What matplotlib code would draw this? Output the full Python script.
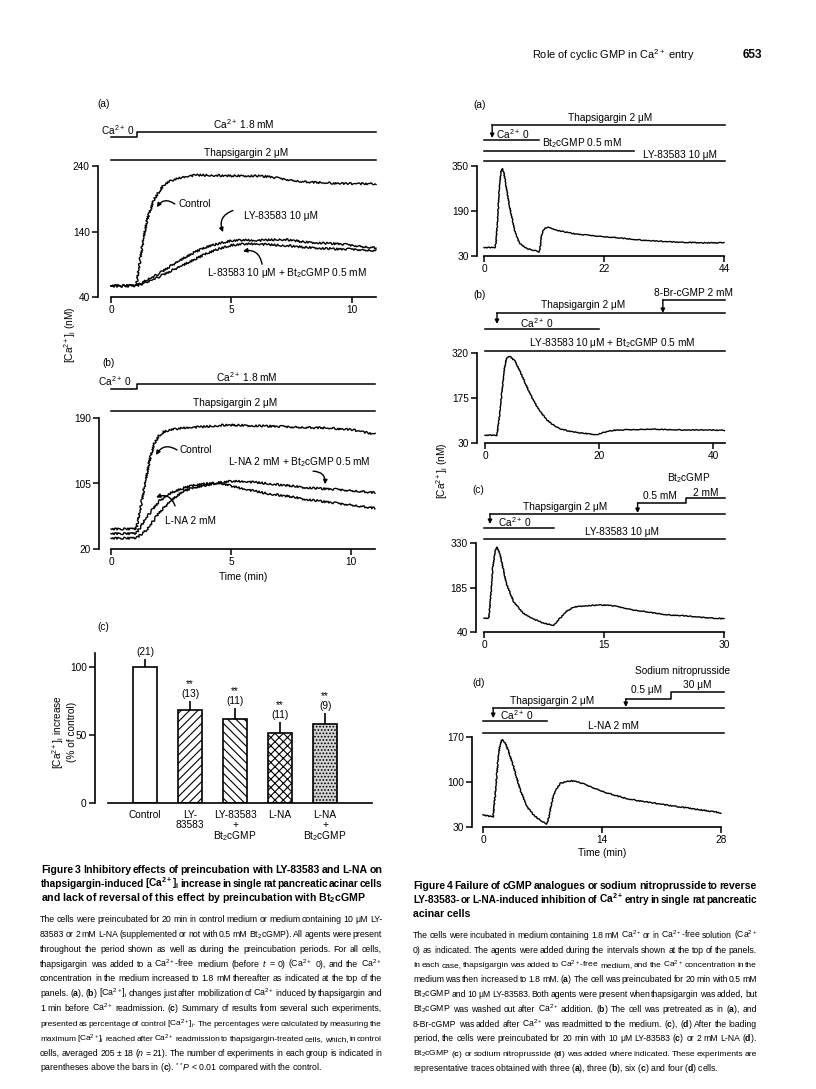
import matplotlib
matplotlib.use('Agg')
import matplotlib.pyplot as plt
from matplotlib import font_manager
from matplotlib.transforms import blended_transform_factory

W, H = 816, 1089

avail = {f.name for f in font_manager.fontManager.ttflist}
FIG_FONT = 'Liberation Sans' if 'Liberation Sans' in avail else 'DejaVu Sans'
CAP_FONT = 'Liberation Sans Narrow' if 'Liberation Sans Narrow' in avail else FIG_FONT

plt.rcParams['font.family'] = [FIG_FONT, 'DejaVu Sans']
plt.rcParams['mathtext.fontset'] = 'custom'
plt.rcParams['mathtext.rm'] = FIG_FONT
plt.rcParams['mathtext.it'] = FIG_FONT + ':italic'
plt.rcParams['mathtext.bf'] = FIG_FONT + ':bold'
plt.rcParams['hatch.linewidth'] = 0.8

CA = 'Ca$^{2+}$'
CAI = '[Ca$^{2+}$]$_\\mathrm{i}$'
BT = 'Bt$_2$cGMP'

# ---- Figure 3(a): time (min) vs [Ca2+]i (nM)
t3a_ctl = [0, 0.5, 1.05, 1.2, 1.36, 1.5, 1.77, 2.0, 2.19, 2.4, 2.6, 3.0, 3.5, 4.0, 5.0, 6.0, 6.5, 7.0, 8.0, 9.0, 10.0, 11.0]
ctl3a = [57, 57, 57, 95, 132, 158, 188, 201, 211, 216, 219, 223, 226, 226, 225, 225, 224, 221, 216, 214, 213, 213]
t3a = [0, 0.5, 1.05, 1.5, 2, 2.5, 3, 3.5, 4, 4.5, 5, 5.5, 6, 6.5, 7, 7.5, 8, 8.5, 9, 9.5, 10, 10.5, 11]
ly3a = [57, 57, 57, 66, 76, 88, 99, 109, 117, 122, 126, 127, 126, 127, 128, 127, 124, 123, 122, 121, 119, 117, 115]
lybt3a = [57, 57, 57, 63, 71, 80, 89, 98, 107, 114, 119, 121, 121, 120, 119, 118, 116, 115, 114, 113, 113, 112, 111]

# ---- Figure 3(b)
t3b_ctl = [0, 0.5, 1.05, 1.2, 1.4, 1.6, 1.8, 2.0, 2.2, 2.5, 3, 4, 4.8, 6, 7, 8, 9, 10, 10.5, 11]
ctl3b = [46, 46, 46, 68, 102, 134, 157, 167, 172, 175, 177, 179, 181, 180, 179, 178, 177, 175, 172, 169]
t3b = [0, 0.5, 1.05, 1.5, 2, 2.5, 3, 3.5, 4, 4.5, 5, 5.5, 6, 6.5, 7, 7.5, 8, 8.5, 9, 9.5, 10, 10.5, 11]
lna3b = [40, 40, 40, 62, 82, 93, 99, 103, 105, 106, 102, 98, 95, 92, 90, 88, 85, 83, 81, 79, 77.5, 75, 73]
lnabt3b = [34, 34, 34, 45, 67, 83, 95, 100, 103, 106, 108, 107.5, 106.5, 105, 103.5, 102, 100, 99, 98, 97, 96, 94.5, 93]

# ---- Figure 3(c): summary bars
groups = ['Control', 'LY-\n83583', 'LY-83583\n+\n' + BT, 'L-NA', 'L-NA\n+\n' + BT]
pct = [100, 68, 61.6, 51.7, 57.6]
pct_err = [5.4, 7.1, 8.1, 7.7, 8.4]
n_exp = [21, 13, 11, 11, 9]
signif = ['', '**', '**', '**', '**']
hatches = [None, '////', '\\\\\\\\', 'xxxx', '.....']
faces = ['white', 'white', 'white', 'white', '#d4d4d4']

# ---- Figure 4 traces
t4a = [0, 1, 2.0, 2.2, 2.5, 2.8, 3.1, 3.36, 3.6, 4.0, 4.7, 5.6, 6.5, 7.8, 9.0, 9.6, 10.1, 10.3, 10.5, 10.8, 11.1, 11.7, 12.5, 13.3, 15, 16.9, 19, 22, 25, 27.3, 30, 33.4, 36, 39.5, 42, 44]
c4a = [60, 60, 60, 75, 160, 270, 330, 341, 330, 285, 205, 122, 75, 57, 51, 49, 45, 60, 99, 118, 128, 132, 128, 122, 115, 108, 104, 99, 94, 89, 85, 81, 79, 77, 77, 77]
t4b = [0, 1, 2.1, 2.5, 3.0, 3.4, 3.8, 4.4, 5.3, 6.3, 7.3, 8.2, 9.1, 10.0, 10.8, 12, 13.2, 14.6, 16.1, 18.4, 19.6, 20.8, 22.5, 26, 29, 31.9, 35, 37.7, 42]
c4b = [55, 55, 55, 110, 200, 270, 305, 309, 293, 255, 213, 178, 148, 124, 105, 88, 76, 69, 64, 59, 57, 64, 71, 73, 75, 73, 72, 72, 71]
t4c = [0, 0.6, 0.8, 1.1, 1.4, 1.6, 2.0, 2.4, 2.8, 3.7, 4.9, 6.2, 7.4, 8.7, 9.5, 10.3, 11.2, 12.4, 14.5, 15.75, 17, 18.7, 20.75, 22.8, 24.9, 27, 30]
c4c = [85, 85, 140, 250, 305, 317, 295, 245, 198, 139, 101, 82, 69, 62, 85, 107, 121, 125, 128, 127, 121, 112, 104, 96, 93, 88, 83]
t4d = [0, 0.6, 1.2, 1.5, 1.8, 2.0, 2.24, 2.5, 2.8, 3.2, 3.6, 4.0, 4.4, 5.2, 6.0, 6.75, 7.5, 7.7, 7.9, 8.2, 8.5, 9.1, 10.3, 11.1, 12.6, 14.6, 16.9, 19.7, 21.7, 24.4, 28]
c4d = [49, 47, 46, 90, 140, 158, 166, 163, 155, 140, 124, 105, 87, 61, 48, 40.5, 35, 42, 56, 74, 87, 98, 102, 100.5, 93, 83, 74, 68, 64, 59, 52]

# caption text
fig3_title = ['Figure 3 Inhibitory effects of preincubation with LY-83583 and L-NA on',
              'thapsigargin-induced [Ca$^{\\mathbf{2+}}$]$_\\mathbf{i}$ increase in single rat pancreatic acinar cells',
              'and lack of reversal of this effect by preincubation with Bt$_\\mathbf{2}$cGMP']
fig3_body = [
    'The cells were preincubated for 20 min in control medium or medium containing 10 μM LY-',
    '83583 or 2 mM L-NA (supplemented or not with 0.5 mM ' + BT + '). All agents were present',
    'throughout the period shown as well as during the preincubation periods. For all cells,',
    'thapsigargin was added to a ' + CA + '-free medium (before $t$ = 0) (' + CA + ' 0), and the ' + CA,
    'concentration in the medium increased to 1.8 mM thereafter as indicated at the top of the',
    'panels. ($\\mathbf{a}$), ($\\mathbf{b}$) ' + CAI + ' changes just after mobilization of ' + CA + ' induced by thapsigargin and',
    '1 min before ' + CA + ' readmission. ($\\mathbf{c}$) Summary of results from several such experiments,',
    'presented as percentage of control ' + CAI + '. The percentages were calculated by measuring the',
    'maximum ' + CAI + ' reached after ' + CA + ' readmission to thapsigargin-treated cells, which, in control',
    'cells, averaged 205 ± 18 ($n$ = 21). The number of experiments in each group is indicated in',
    'parentheses above the bars in ($\\mathbf{c}$). $^{**}$$P$ < 0.01 compared with the control.']
fig4_title = ['Figure 4 Failure of cGMP analogues or sodium nitroprusside to reverse',
              'LY-83583- or L-NA-induced inhibition of Ca$^{\\mathbf{2+}}$ entry in single rat pancreatic',
              'acinar cells']
fig4_body = [
    'The cells were incubated in medium containing 1.8 mM ' + CA + ' or in ' + CA + '-free solution (' + CA,
    '0) as indicated. The agents were added during the intervals shown at the top of the panels.',
    'In each case, thapsigargin was added to ' + CA + '-free medium, and the ' + CA + ' concentration in the',
    'medium was then increased to 1.8 mM. ($\\mathbf{a}$) The cell was preincubated for 20 min with 0.5 mM',
    BT + ' and 10 μM LY-83583. Both agents were present when thapsigargin was added, but',
    BT + ' was washed out after ' + CA + ' addition. ($\\mathbf{b}$) The cell was pretreated as in ($\\mathbf{a}$), and',
    '8-Br-cGMP was added after ' + CA + ' was readmitted to the medium. ($\\mathbf{c}$), ($\\mathbf{d}$) After the loading',
    'period, the cells were preincubated for 20 min with 10 μM LY-83583 ($\\mathbf{c}$) or 2 mM L-NA ($\\mathbf{d}$).',
    BT + ' ($\\mathbf{c}$) or sodium nitroprusside ($\\mathbf{d}$) was added where indicated. These experiments are',
    'representative traces obtained with three ($\\mathbf{a}$), three ($\\mathbf{b}$), six ($\\mathbf{c}$) and four ($\\mathbf{d}$) cells.']

FS = 7.3

fig = plt.figure(figsize=(W / 100, H / 100), dpi=100)


def fy(p):
    return 1 - p / H


def add_ax(l, t, r, b):
    return fig.add_axes([l / W, 1 - b / H, (r - l) / W, (b - t) / H])


def style(ax, left_out, xticks, yticks):
    for s in ('top', 'right'):
        ax.spines[s].set_visible(False)
    ax.spines['left'].set_position(('outward', left_out * 0.72))
    for s in ('left', 'bottom'):
        ax.spines[s].set_linewidth(1.2)
    ax.set_xticks(xticks)
    ax.set_yticks(yticks)
    ax.tick_params(direction='out', length=4, width=1.1, labelsize=FS, pad=2)


def hline(ax, x0, x1, ypx):
    tr = blended_transform_factory(ax.transData, fig.transFigure)
    ax.plot([x0, x1], [fy(ypx), fy(ypx)], transform=tr, clip_on=False, color='k', lw=1.1)


def step(ax, xs, ys):
    tr = blended_transform_factory(ax.transData, fig.transFigure)
    ax.plot(xs, [fy(v) for v in ys], transform=tr, clip_on=False, color='k', lw=1.1)


def down_arrow(ax, x, y0, y1):
    tr = blended_transform_factory(ax.transData, fig.transFigure)
    ax.annotate('', xy=(x, fy(y1)), xytext=(x, fy(y0)), xycoords=tr, textcoords=tr,
                arrowprops=dict(arrowstyle='-|>', lw=1.0, color='k', mutation_scale=6,
                                shrinkA=0, shrinkB=0))


def label(ax, x, ypx, s, ha='center'):
    tr = blended_transform_factory(ax.transData, fig.transFigure)
    ax.text(x, fy(ypx), s, transform=tr, ha=ha, va='center', fontsize=FS, clip_on=False)


def curly(ax, tail, head, rad):
    ax.annotate('', xy=head, xytext=tail,
                arrowprops=dict(arrowstyle='-|>', lw=1.0, color='k', mutation_scale=6,
                                connectionstyle=f'arc3,rad={rad}', shrinkA=0, shrinkB=0))


def trace(ax, t, v, scale=1.0):
    ln, = ax.plot(t, v, color='k', lw=1.0, clip_on=False)
    ln.set_sketch_params(scale=scale, length=1.2, randomness=2)


# ---------------- Figure 3(a)
ax = add_ax(111, 166, 376, 297)
ax.set_xlim(0, 11)
ax.set_ylim(40, 240)
style(ax, 13, [0, 5, 10], [40, 140, 240])
trace(ax, t3a_ctl, ctl3a)
trace(ax, t3a, ly3a)
trace(ax, t3a, lybt3a)
step(ax, [0, 1.07, 1.07, 11], [137, 137, 132, 132])
label(ax, 1.0, 130, CA + ' 0', ha='right')
label(ax, 5.5, 124, CA + ' 1.8 mM')
hline(ax, 0, 11, 160)
label(ax, 5.6, 153, 'Thapsigargin 2 μM')
ax.text(2.8, 182, 'Control', fontsize=FS, va='center')
curly(ax, (2.65, 182), (1.9, 177), 0.5)
ax.text(5.5, 164, 'LY-83583 10 μM', fontsize=FS, va='center')
curly(ax, (5.06, 172), (4.65, 139), 0.5)
ax.text(7.3, 76.6, 'L-83583 10 μM + ' + BT + ' 0.5 mM', fontsize=FS, va='center', ha='center')
curly(ax, (6.27, 90), (5.48, 110), 0.5)
fig.text(97 / W, fy(104), '(a)', fontsize=FS, va='center')

# ---------------- Figure 3(b)
ax = add_ax(111, 418, 375, 549)
ax.set_xlim(0, 11)
ax.set_ylim(20, 190)
style(ax, 12, [0, 5, 10], [20, 105, 190])
trace(ax, t3b_ctl, ctl3b)
trace(ax, t3b, lna3b)
trace(ax, t3b, lnabt3b)
step(ax, [0, 1.07, 1.07, 11], [389, 389, 384, 384])
label(ax, 0.88, 381, CA + ' 0', ha='right')
label(ax, 5.67, 377, CA + ' 1.8 mM')
hline(ax, 0, 11, 411)
label(ax, 5.17, 403, 'Thapsigargin 2 μM')
ax.text(2.85, 148.5, 'Control', fontsize=FS, va='center')
curly(ax, (2.75, 148.5), (1.875, 142), 0.5)
ax.text(7.83, 133, 'L-NA 2 mM + ' + BT + ' 0.5 mM', fontsize=FS, va='center', ha='center')
curly(ax, (8.42, 121), (8.92, 104), -0.5)
ax.text(3.3, 56, 'L-NA 2 mM', fontsize=FS, va='center', ha='center')
curly(ax, (2.67, 76), (1.875, 87), 0.5)
ax.set_xlabel('Time (min)', fontsize=FS, labelpad=3)
fig.text(102 / W, fy(363), '(b)', fontsize=FS, va='center')
fig.text(70 / W, fy(335), CAI + ' (nM)', fontsize=FS, rotation=90, ha='center', va='center')

# ---------------- Figure 3(c)
ax = add_ax(108, 653, 372, 803)
ax.set_xlim(-0.82, 5.04)
ax.set_ylim(0, 110)
style(ax, 13, range(len(groups)), [0, 50, 100])
xpos = list(range(len(groups)))
ax.bar(xpos, pct, width=0.53, color=faces, edgecolor='k', linewidth=1.2, hatch=hatches, zorder=2)
ax.errorbar(xpos, pct, yerr=[[0] * len(pct), pct_err], fmt='none', ecolor='k', elinewidth=1.2,
            capsize=0, zorder=3)
for x, v, e, n, s in zip(xpos, pct, pct_err, n_exp, signif):
    ax.annotate(f'({n})', (x, v + e), xytext=(0, 5), textcoords='offset points',
                ha='center', va='center', fontsize=FS)
    if s:
        ax.annotate(s, (x, v + e), xytext=(0, 12), textcoords='offset points',
                    ha='center', va='center', fontsize=FS)
ax.set_xticklabels(groups, fontsize=FS, linespacing=0.95)
ax.tick_params(axis='x', length=0, pad=5)
fig.text(97 / W, fy(627), '(c)', fontsize=FS, va='center')
fig.text(64 / W, fy(732), CAI + ' increase\n(% of control)', fontsize=FS, rotation=90,
         ha='center', va='center', multialignment='center', linespacing=1.1)

# ---------------- Figure 4(a)
ax = add_ax(484, 166, 724, 256)
ax.set_xlim(0, 44)
ax.set_ylim(30, 350)
style(ax, 7, [0, 22, 44], [30, 190, 350])
trace(ax, t4a, c4a, 0.4)
hline(ax, 1.5, 44.2, 125)
down_arrow(ax, 1.5, 125, 138)
label(ax, 23.1, 118, 'Thapsigargin 2 μM')
hline(ax, 0, 10, 140)
label(ax, 5.3, 134, CA + ' 0')
hline(ax, 0, 27.5, 151)
label(ax, 18, 143, BT + ' 0.5 mM')
hline(ax, 0, 44.2, 161)
label(ax, 36, 155, 'LY-83583 10 μM')
fig.text(473 / W, fy(105), '(a)', fontsize=FS, va='center')

# ---------------- Figure 4(b)
ax = add_ax(485, 353, 725, 443)
ax.set_xlim(0, 42.1)
ax.set_ylim(30, 320)
style(ax, 8, [0, 20, 40], [30, 175, 320])
trace(ax, t4b, c4b, 0.4)
hline(ax, 31.2, 42.1, 300)
down_arrow(ax, 31.2, 300, 313)
label(ax, 36.5, 293, '8-Br-cGMP 2 mM')
hline(ax, 2.1, 42.1, 313)
down_arrow(ax, 2.1, 313, 324)
label(ax, 17.2, 305, 'Thapsigargin 2 μM')
hline(ax, 0, 20, 329)
label(ax, 9.1, 323, CA + ' 0')
hline(ax, 0, 42.1, 351)
label(ax, 22.3, 343, 'LY-83583 10 μM + ' + BT + ' 0.5 mM')
fig.text(473 / W, fy(295), '(b)', fontsize=FS, va='center')
fig.text(442 / W, fy(471), CAI + ' (nM)', fontsize=FS, rotation=90, ha='center', va='center')

# ---------------- Figure 4(c)
ax = add_ax(484, 543, 724, 632)
ax.set_xlim(0, 30)
ax.set_ylim(40, 330)
style(ax, 8, [0, 15, 30], [40, 185, 330])
trace(ax, t4c, c4c, 0.4)
label(ax, 25.6, 478, BT)
label(ax, 22, 496, '0.5 mM')
label(ax, 27.7, 493, '2 mM')
step(ax, [19.2, 25.25, 25.25, 30.1], [503, 503, 498, 498])
down_arrow(ax, 19.2, 503, 513)
hline(ax, 0.75, 30.1, 514)
down_arrow(ax, 0.75, 514, 524)
label(ax, 10.1, 507, 'Thapsigargin 2 μM')
hline(ax, 0, 8.7, 528)
label(ax, 3.9, 522, CA + ' 0')
hline(ax, 0, 30.1, 539)
label(ax, 17.25, 532, 'LY-83583 10 μM')
fig.text(472 / W, fy(490), '(c)', fontsize=FS, va='center')

# ---------------- Figure 4(d)
ax = add_ax(483, 737, 721, 827)
ax.set_xlim(0, 28)
ax.set_ylim(30, 170)
style(ax, 11, [0, 14, 28], [30, 100, 170])
trace(ax, t4d, c4d, 0.5)
label(ax, 23.5, 671, 'Sodium nitroprusside')
label(ax, 19.3, 690, '0.5 μM')
label(ax, 25.2, 685, '30 μM')
step(ax, [16.8, 22.1, 22.1, 28.4], [699, 699, 692, 692])
down_arrow(ax, 16.8, 699, 707)
hline(ax, 1.2, 28.4, 708)
down_arrow(ax, 1.2, 708, 718)
label(ax, 8.1, 701, 'Thapsigargin 2 μM')
hline(ax, 0, 7.5, 721)
label(ax, 4.0, 715, CA + ' 0')
hline(ax, 0, 28.4, 733)
label(ax, 15.3, 726, 'L-NA 2 mM')
ax.set_xlabel('Time (min)', fontsize=FS, labelpad=2)
fig.text(472 / W, fy(683), '(d)', fontsize=FS, va='center')

# ---------------- header and captions
renderer = fig.canvas.get_renderer()
CAP_FAM = [CAP_FONT, 'DejaVu Sans']
GAP = 1.9  # wanted word gap in px


def word_widths(s, size, bold):
    out = []
    for w in s.split(' '):
        t = fig.text(0, 0, w, fontsize=size, family=CAP_FAM,
                     fontweight='bold' if bold else 'normal')
        out.append(t.get_window_extent(renderer).width)
        t.remove()
    return out


def ideal_size(s, width, bold):
    ws = word_widths(s, 10, bold)
    return 10 * (width - GAP * (len(ws) - 1)) / sum(ws)


def cap_line(s, x0, x1, yc, size, bold=False, justify=True):
    kw = dict(family=CAP_FAM, va='baseline', fontweight='bold' if bold else 'normal')
    yb = fy(yc + size * 0.45)
    if not justify:
        fig.text(x0 / W, yb, s, ha='left', fontsize=size, **kw)
        return
    words = s.split(' ')
    texts = [fig.text(0, yb, w, ha='left', fontsize=size, **kw) for w in words]
    widths = [t.get_window_extent(renderer).width for t in texts]
    room = x1 - x0 - 1.3 * (len(words) - 1)
    if sum(widths) > room:
        # squeeze this line a little so the words never collide
        k = room / sum(widths)
        for t in texts:
            t.set_fontsize(size * k)
        widths = [t.get_window_extent(renderer).width for t in texts]
    gap = (x1 - x0 - sum(widths)) / (len(words) - 1)
    x = x0
    for t, w in zip(texts, widths):
        t.set_x(x / W)
        x += w + gap


fig.text(532 / W, fy(55), 'Role of cyclic GMP in ' + CA + ' entry', fontsize=7.9,
         family=CAP_FAM, va='center')
fig.text(743 / W, fy(55), '653', fontsize=8.5, fontweight='bold', va='center')

paragraphs = [
    (fig3_title, 41, 382, 870, 14, True),
    (fig3_body, 40, 382, 919, 14.9, False),
    (fig4_title, 413, 757, 886, 14, True),
    (fig4_body, 413, 757, 935, 14.8, False),
]
for lines, x0, x1, y0, dy, bold in paragraphs:
    sizes = sorted(ideal_size(s, x1 - x0, bold) for s in lines[:-1])
    size = sizes[len(sizes) // 2]
    for i, s in enumerate(lines):
        cap_line(s, x0, x1, y0 + dy * i, size, bold=bold, justify=i < len(lines) - 1)

fig.savefig('out.png', dpi=100)
